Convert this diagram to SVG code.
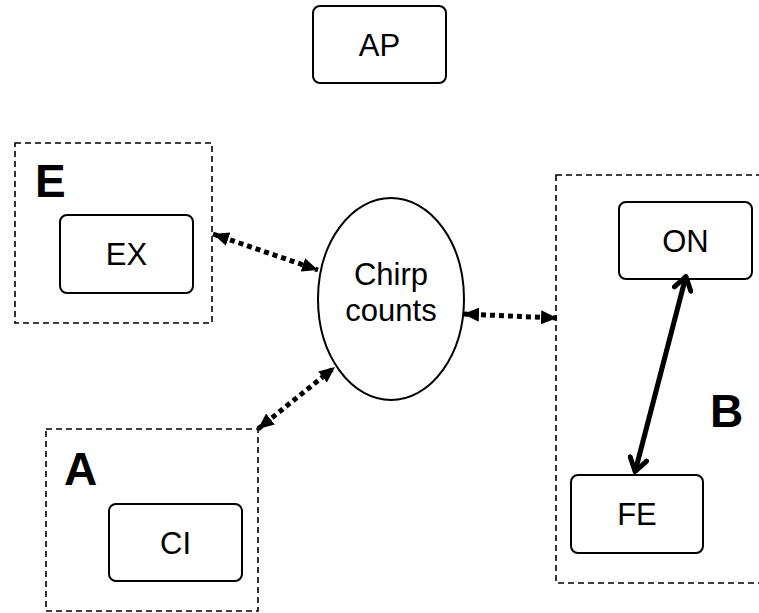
<svg xmlns="http://www.w3.org/2000/svg" width="759" height="613" viewBox="0 0 759 613">
<style>
.box{fill:#fff;stroke:#000;stroke-width:2}
.grp{fill:none;stroke:#000;stroke-width:1.6;stroke-dasharray:6 4}
.lbl{font-family:"Liberation Sans",Arial,sans-serif;font-size:31px;text-anchor:middle;fill:#000}
.big{font-family:"Liberation Sans",Arial,sans-serif;font-size:46px;font-weight:bold;fill:#000}
.dot{fill:none;stroke:#000;stroke-width:5;stroke-dasharray:5 4}
.sol{fill:none;stroke:#000;stroke-width:5}
</style>
<defs>
<marker id="tri" viewBox="0 0 16 14" refX="16" refY="7" markerWidth="16" markerHeight="14" markerUnits="userSpaceOnUse" orient="auto-start-reverse">
<path d="M0,0 L16,7 L0,14 Z" fill="#000"/>
</marker>
<marker id="vee" viewBox="0 0 18 22" refX="16" refY="11" markerWidth="18" markerHeight="22" markerUnits="userSpaceOnUse" orient="auto-start-reverse">
<path d="M2.5,2.5 L15.5,11 L2.5,19.5" fill="none" stroke="#000" stroke-width="5" stroke-linecap="round" stroke-linejoin="round"/>
</marker>
</defs>
<rect width="759" height="613" fill="#fff"/>
<g id="groupE">
<rect class="grp" x="15" y="143" width="197" height="180"/>
<text class="big" x="35" y="197">E</text>
</g>
<g id="groupA">
<rect class="grp" x="46" y="429" width="212" height="182"/>
<text class="big" x="64" y="485">A</text>
</g>
<g id="groupB">
<rect class="grp" x="556" y="175" width="210" height="408"/>
<text class="big" x="710" y="427">B</text>
</g>
<g id="AP">
<rect class="box" x="313" y="6" width="133" height="77" rx="7"/>
<text class="lbl" x="379.5" y="56">AP</text>
</g>
<g id="EX">
<rect class="box" x="60" y="215" width="133" height="78" rx="7"/>
<text class="lbl" x="126.5" y="265">EX</text>
</g>
<g id="CI">
<rect class="box" x="109" y="504" width="133" height="77" rx="7"/>
<text class="lbl" x="175.5" y="554">CI</text>
</g>
<g id="ON">
<rect class="box" x="619" y="202" width="133" height="77" rx="7"/>
<text class="lbl" x="685.5" y="252">ON</text>
</g>
<g id="FE">
<rect class="box" x="571" y="475" width="132" height="78" rx="7"/>
<text class="lbl" x="637" y="525">FE</text>
</g>
<g id="chirp">
<ellipse cx="391" cy="299" rx="73" ry="101" fill="#fff" stroke="#000" stroke-width="2"/>
<text class="lbl" x="391" y="285">Chirp</text>
<text class="lbl" x="391" y="321">counts</text>
</g>
<g id="connectors">
<line class="dot" x1="213" y1="234" x2="318" y2="270" marker-start="url(#tri)" marker-end="url(#tri)"/>
<line class="dot" x1="258" y1="429" x2="335" y2="367" marker-start="url(#tri)" marker-end="url(#tri)"/>
<line class="dot" x1="463" y1="314" x2="557" y2="318" marker-start="url(#tri)" marker-end="url(#tri)"/>
<line class="sol" x1="686" y1="276" x2="635" y2="472" marker-start="url(#vee)" marker-end="url(#vee)"/>
</g>
</svg>
